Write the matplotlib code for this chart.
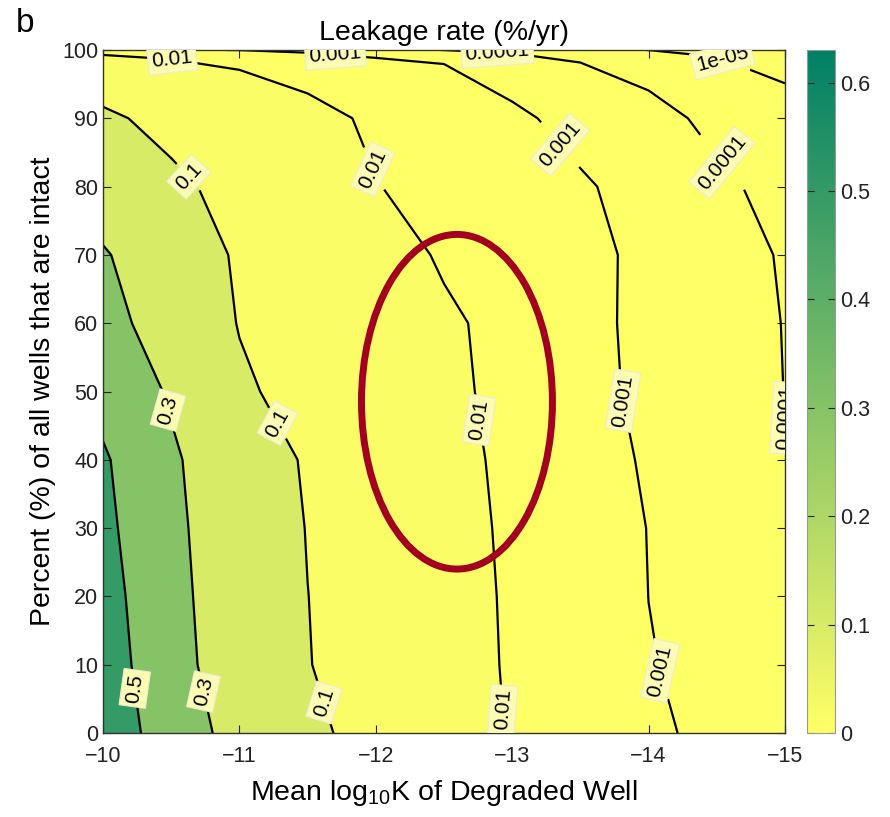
import numpy as np
import matplotlib.pyplot as plt
from matplotlib.colors import Normalize
from matplotlib.cm import ScalarMappable
from matplotlib.patches import Ellipse

plt.rcParams['font.family'] = ['Liberation Sans', 'DejaVu Sans']
plt.rcParams['mathtext.default'] = 'regular'

# grid
log_k = [-10, -10.5, -11, -11.5, -12, -12.5, -13, -13.5, -14, -14.5, -15]
pct_intact = [0, 10, 20, 30, 40, 50, 60, 70, 80, 90, 100]
leak_rate = [
    [0.628, 0.398, 0.237, 0.127, 0.0557, 0.0217, 0.0085, 0.0034, 0.00137, 0.00050, 0.00022],
    [0.598, 0.363, 0.200, 0.104, 0.0449, 0.0191, 0.00789, 0.00295, 0.00110, 0.000412, 0.000155],
    [0.574, 0.351, 0.192, 0.101, 0.0429, 0.0184, 0.00754, 0.00275, 0.00099, 0.000364, 0.000133],
    [0.545, 0.339, 0.185, 0.0962, 0.0405, 0.0173, 0.00697, 0.00256, 0.00094, 0.000346, 0.000127],
    [0.522, 0.325, 0.174, 0.0873, 0.0372, 0.0158, 0.00626, 0.00174, 0.000815, 0.000294, 0.000106],
    [0.441, 0.280, 0.119, 0.0566, 0.0278, 0.0137, 0.00551, 0.00148, 0.000677, 0.000255, 0.0000962],
    [0.371, 0.204, 0.0948, 0.0485, 0.0249, 0.0127, 0.00508, 0.00142, 0.000638, 0.000241, 0.0000908],
    [0.318, 0.168, 0.0867, 0.0394, 0.0179, 0.00803, 0.00347, 0.00150, 0.000589, 0.000212, 0.0000767],
    [0.192, 0.124, 0.0628, 0.0258, 0.0105, 0.00506, 0.00245, 0.00119, 0.000421, 0.000135, 0.0000431],
    [0.120, 0.0665, 0.0321, 0.0155, 0.00713, 0.0045, 0.00131, 0.000478, 0.000162, 0.0000545, 0.0000184],
    [0.0014, 0.0012, 0.00095, 0.0004, 0.0002, 0.000095, 0.00004, 0.000015, 0.0000098, 0.000005, 0.000002],
]
levels = [1e-5, 1e-4, 1e-3, 0.01, 0.1, 0.3, 0.5]
level_labels = ['1e-05', '0.0001', '0.001', '0.01', '0.1', '0.3', '0.5']
cmax = 0.63

# where the contour labels sit
label_spots = [(-10.51, 99.0), (-11.70, 98.6), (-12.89, 99.3), (-14.51, 97.1),
               (-13.39, 86.8), (-14.52, 83.2), (-10.68, 82.4), (-11.96, 82.4),
               (-12.75, 45.8), (-13.85, 48.8), (-14.95, 45.8), (-10.48, 47.3),
               (-11.32, 45.8), (-10.15, 6.3), (-10.70, 5.9), (-11.56, 4.1),
               (-12.90, 3.4), (-14.10, 9.2)]

X, Y = np.meshgrid(log_k, pct_intact)
Z = np.array(leak_rate)

cmap = plt.get_cmap('summer_r')
norm = Normalize(0, cmax)
band_edges = [0] + levels + [cmax]
band_colors = [cmap(norm(v)) for v in band_edges[:-1]]

fig = plt.figure(figsize=(8.9, 8.17), dpi=100)
ax = fig.add_axes([103 / 890, 84 / 817, 682 / 890, 683 / 817])

ax.contourf(X, Y, Z, levels=band_edges, colors=band_colors)
cs = ax.contour(X, Y, Z, levels=levels, colors='k', linewidths=1.6)
texts = ax.clabel(cs, levels, fmt=dict(zip(levels, level_labels)), fontsize=15,
                  manual=label_spots, inline=True, inline_spacing=3)
for t in texts:
    t.set_bbox(dict(boxstyle='square,pad=0.18', fc='#fbfbb4', ec='#ecebd2', lw=0.8))

ax.add_patch(Ellipse((-12.595, 48.5), 1.40, 49.0, fill=False,
                     edgecolor='#a3001f', lw=5, zorder=5))

ax.set_xlim(-10, -15)
ax.set_ylim(0, 100)
ax.set_xticks([-10, -11, -12, -13, -14, -15])
ax.set_yticks(range(0, 101, 10))
ax.tick_params(direction='in', top=True, right=True, length=6, width=0.8,
               labelsize=15.5, colors='#222222')
ax.tick_params(axis='x', pad=9)
for s in ax.spines.values():
    s.set_color('#333333')
    s.set_linewidth(1)

ax.set_title('Leakage rate (%/yr)', fontsize=20.5, pad=7)
ax.set_xlabel('Mean log$_{10}$K of Degraded Well', fontsize=20.5, labelpad=8)
ax.set_ylabel('Percent (%) of all wells that are intact', fontsize=20.5, labelpad=4)
fig.text(0.018, 0.99, 'b', fontsize=24, va='top', ha='left')

cax = fig.add_axes([807 / 890, 84 / 817, 28 / 890, 683 / 817])
cb = fig.colorbar(ScalarMappable(norm=norm, cmap=cmap), cax=cax)
cb.set_ticks([0, 0.1, 0.2, 0.3, 0.4, 0.5, 0.6])
cb.ax.set_yticklabels(['0', '0.1', '0.2', '0.3', '0.4', '0.5', '0.6'])
cb.ax.tick_params(direction='in', left=True, right=True, length=5, width=0.8,
                  labelsize=15.5, colors='#222222')
cb.outline.set_edgecolor('#999999')

fig.savefig('out.png', dpi=100)
